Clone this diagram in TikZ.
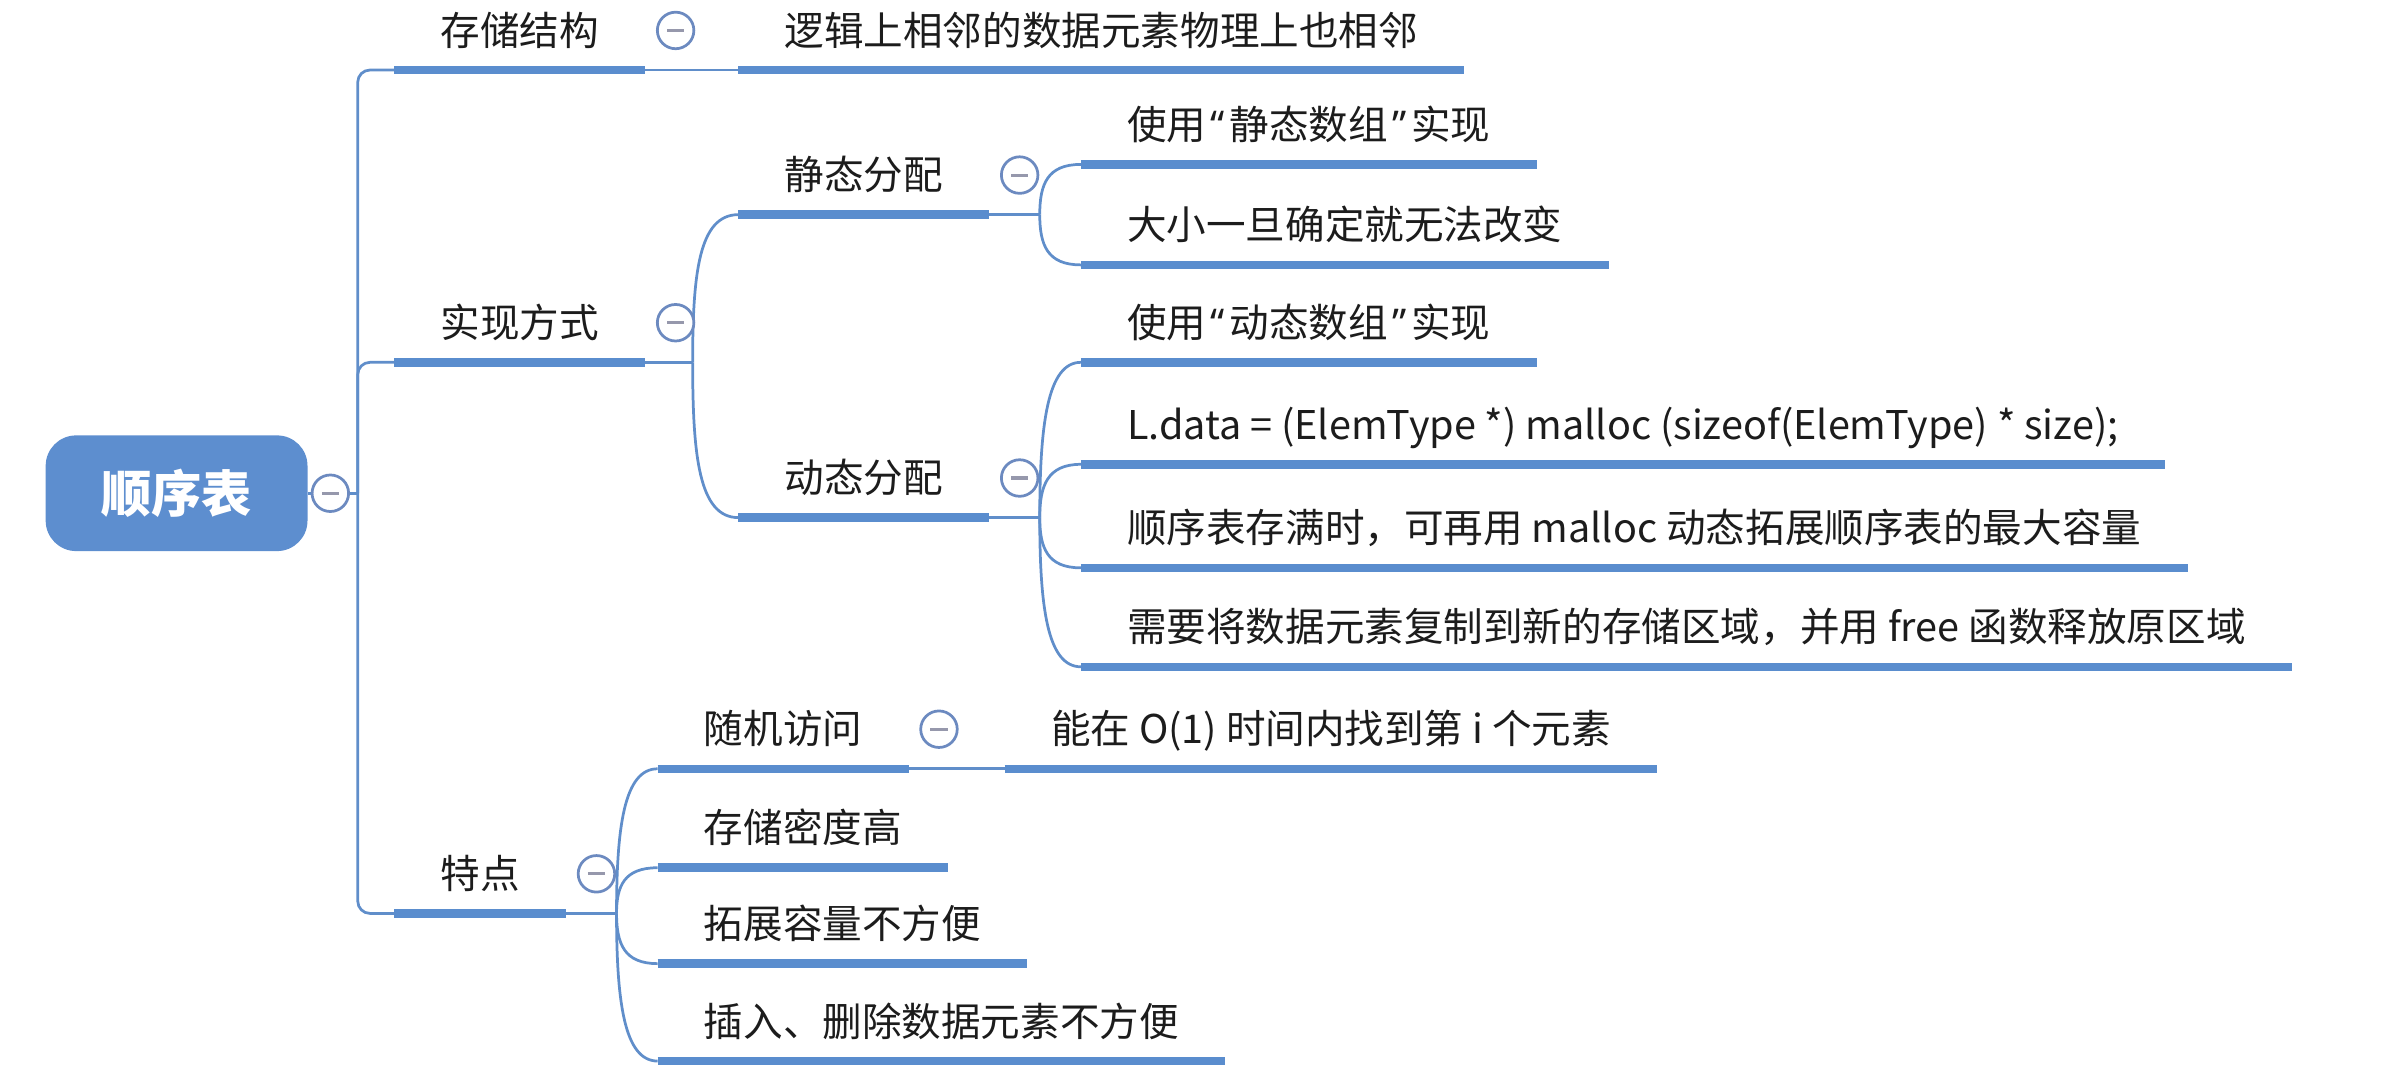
\documentclass[tikz,border=0pt]{standalone}
\usepackage{fontspec}
\setmainfont{Noto Sans CJK SC}
\newfontfamily\quotefont{Noto Sans}
\usepackage{tikz}

\definecolor{barblue}{RGB}{90,141,206}
\definecolor{linkblue}{RGB}{96,142,202}
\definecolor{knobblue}{RGB}{108,138,192}
\definecolor{knobgray}{RGB}{150,152,172}
\definecolor{rootblue}{RGB}{93,142,207}
\definecolor{inkgray}{RGB}{28,28,28}

\tikzset{
    bar/.style={draw=barblue, line width=2.8pt},
    link/.style={draw=linkblue, line width=0.9pt},
    topic/.style={anchor=south west, inner xsep=15pt, inner ysep=8pt, text depth=0pt,
        text=inkgray, font=\fontsize{13}{15}\selectfont,
        append after command={(\tikzlastnode.south west) edge[bar] (\tikzlastnode.south east)}},
    root/.style={fill=rootblue, rounded corners=10pt, minimum width=86pt, minimum height=38pt,
        text=white, font=\fontsize{16.5}{18}\selectfont\bfseries},
    knob/.style={circle, draw=knobblue, line width=0.9pt, fill=white, minimum size=12pt, inner sep=0pt,
        path picture={\draw[knobgray, line width=1pt] ([xshift=-2.8pt]path picture bounding box.center) -- ([xshift=2.8pt]path picture bounding box.center);}},
}

\begin{document}
\begin{tikzpicture}[x=0.5pt,y=0.5pt,yscale=-1,xscale=1]
    \useasboundingbox (0,0) rectangle (1568,702);

    % Root
    \node [root] (root) at (116,324) {顺序表};
    \node [knob] (rootKnob) at (217,324) {};
    \coordinate (trunk) at (235,324);
    \draw [link] (root.east) -- (rootKnob.west);
    \draw [link] (rootKnob.east) -- (trunk);

    % Level 1
    \node [topic] (store) at (259,46) {存储结构};
    \node [topic] (impl) at (259,238) {实现方式};
    \node [topic] (feat) at (259,600) {特点};
    \draw [link, rounded corners=4pt] (trunk) |- (store.south west);
    \draw [link, rounded corners=4pt] (trunk) |- (impl.south west);
    \draw [link, rounded corners=4pt] (trunk) |- (feat.south west);

    % Storage structure
    \node [topic] (storeDef) at (485,46) {逻辑上相邻的数据元素物理上也相邻};
    \draw [link] (store.south east) -- (storeDef.south west);
    \node [knob] (storeKnob) at ([xshift=10pt,yshift=-13pt]store.south east) {};

    % Implementation
    \node [topic] (static) at (485,141) {静态分配};
    \node [topic] (dynamic) at (485,340) {动态分配};
    \coordinate (implJ) at (455,238);
    \draw [link] (impl.south east) -- (implJ);
    \draw [link] (implJ) .. controls +(0,-58) and +(-26,0) .. (static.south west);
    \draw [link] (implJ) .. controls +(0,61) and +(-26,0) .. (dynamic.south west);
    \node [knob] (implKnob) at ([xshift=10pt,yshift=-13pt]impl.south east) {};

    % Static allocation
    \node [topic] (staticA) at (710,108) {使用\kern1.5pt{\quotefont “}\kern1.5pt 静态数组\kern1.5pt{\quotefont ”}\kern1.5pt 实现};
    \node [topic] (staticB) at (710,174) {大小一旦确定就无法改变};
    \coordinate (staticJ) at (683,141);
    \draw [link] (static.south east) -- (staticJ);
    \draw [link] (staticJ) .. controls +(0,-20) and +(-22,0) .. (staticA.south west);
    \draw [link] (staticJ) .. controls +(0,20) and +(-22,0) .. (staticB.south west);
    \node [knob] (staticKnob) at ([xshift=10pt,yshift=-13pt]static.south east) {};

    % Dynamic allocation
    \node [topic] (dynA) at (710,238) {使用\kern1.5pt{\quotefont “}\kern1.5pt 动态数组\kern1.5pt{\quotefont ”}\kern1.5pt 实现};
    \node [topic] (dynB) at (710,305) {L.data = (ElemType *) malloc (sizeof(ElemType) * size);};
    \node [topic] (dynC) at (710,373) {顺序表存满时，可再用 malloc 动态拓展顺序表的最大容量};
    \node [topic] (dynD) at (710,438) {需要将数据元素复制到新的存储区域，并用 free 函数释放原区域};
    \coordinate (dynJ) at (683,340);
    \draw [link] (dynamic.south east) -- (dynJ);
    \draw [link] (dynJ) .. controls +(0,-61) and +(-22,0) .. (dynA.south west);
    \draw [link] (dynJ) .. controls +(0,-21) and +(-22,0) .. (dynB.south west);
    \draw [link] (dynJ) .. controls +(0,20) and +(-22,0) .. (dynC.south west);
    \draw [link] (dynJ) .. controls +(0,59) and +(-22,0) .. (dynD.south west);
    \node [knob] (dynKnob) at ([xshift=10pt,yshift=-13pt]dynamic.south east) {};

    % Features
    \node [topic] (rand) at (432,505) {随机访问};
    \node [topic] (dense) at (432,570) {存储密度高};
    \node [topic] (expand) at (432,633) {拓展容量不方便};
    \node [topic] (insdel) at (432,697) {插入、删除数据元素不方便};
    \coordinate (featJ) at (405,600);
    \draw [link] (feat.south east) -- (featJ);
    \draw [link] (featJ) .. controls +(0,-57) and +(-22,0) .. (rand.south west);
    \draw [link] (featJ) .. controls +(0,-18) and +(-22,0) .. (dense.south west);
    \draw [link] (featJ) .. controls +(0,20) and +(-22,0) .. (expand.south west);
    \draw [link] (featJ) .. controls +(0,58) and +(-22,0) .. (insdel.south west);
    \node [knob] (featKnob) at ([xshift=10pt,yshift=-13pt]feat.south east) {};

    % Random access
    \node [topic] (randDef) at (660,505) {能在 O(1) 时间内找到第 i 个元素};
    \draw [link] (rand.south east) -- (randDef.south west);
    \node [knob] (randKnob) at ([xshift=10pt,yshift=-13pt]rand.south east) {};
\end{tikzpicture}
\end{document}
